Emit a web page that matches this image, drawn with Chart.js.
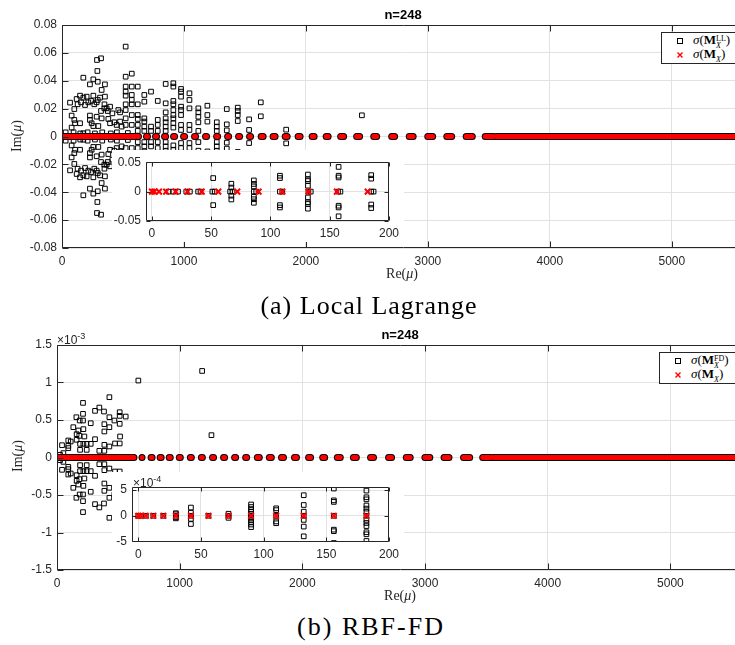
<!DOCTYPE html>
<html>
<head>
<meta charset="utf-8">
<script src="https://cdn.jsdelivr.net/npm/chart.js@4.4.1/dist/chart.umd.min.js"></script>
<style>
  html, body { margin: 0; padding: 0; overflow: hidden; background: #fff; }
  body { position: relative; width: 735px; height: 645px; font-family: 'Liberation Sans', Arial, sans-serif; }
  .box { position: absolute; }
  .txt { position: absolute; white-space: nowrap; color: #262626; }
  .tex { font-family: 'Liberation Serif', 'Times New Roman', serif; }
  .ttl { font-weight: bold; font-size: 13px; color: #000; transform: translateX(-50%); }
  .ylab { font-size: 14px; transform: translate(-50%, -50%) rotate(-90deg); }
  .xlab { font-size: 14px; transform: translateX(-50%); }
  .cap { font-size: 26px; letter-spacing: 1px; color: #000; transform: translateX(-50%); }
  .mult { font-size: 12px; }
  .mult sup { font-size: 9px; vertical-align: 5px; }
  .legend { position: absolute; border: 1px solid #262626; background: #fff; width: 100px; height: 30px; }
  .legend svg { position: absolute; }
  .legend .lt { position: absolute; font-size: 13px; color: #000; white-space: nowrap; }
  .ss { display: inline-block; vertical-align: -4px; font-size: 8px; line-height: 7px; text-align: left; }
  .ss span { display: block; }
</style>
</head>
<body>

<div class="box" style="left:0;top:0"><canvas id="llMain" width="770" height="290"></canvas></div>
<div class="box" style="left:112px;top:150px"><canvas id="llInset" width="292" height="92"></canvas></div>
<div class="box" style="left:0;top:320px"><canvas id="fdMain" width="770" height="290"></canvas></div>
<div class="box" style="left:112px;top:472px"><canvas id="fdInset" width="292" height="88"></canvas></div>

<div class="txt ttl" style="left:403px;top:7px">n=248</div>
<div class="txt ttl" style="left:400px;top:327px">n=248</div>

<div class="txt tex ylab" style="left:17px;top:136px">Im(<i>μ</i>)</div>
<div class="txt tex ylab" style="left:18px;top:456px">Im(<i>μ</i>)</div>
<div class="txt tex xlab" style="left:402px;top:266px">Re(<i>μ</i>)</div>
<div class="txt tex xlab" style="left:400px;top:588px">Re(<i>μ</i>)</div>

<div class="txt mult" style="left:57px;top:331px">×10<sup>-3</sup></div>
<div class="txt mult" style="left:133px;top:474px">×10<sup>-4</sup></div>

<div class="txt tex cap" style="left:369px;top:291px">(a) Local Lagrange</div>
<div class="txt tex cap" style="left:371px;top:612px;letter-spacing:2px">(b) RBF-FD</div>

<div class="legend" style="left:661px;top:32px">
  <svg width="12" height="30" style="left:12px;top:0"><rect x="3.5" y="5.5" width="5" height="5" fill="none" stroke="#000"/><path d="M3.5 19.5 L8.5 24.5 M8.5 19.5 L3.5 24.5" stroke="#f00" stroke-width="1.4"/></svg>
  <div class="lt tex" style="left:31px;top:-1px"><i>σ</i>(<b>M</b><span class="ss"><span>LL</span><span><i>X</i></span></span>)</div>
  <div class="lt tex" style="left:31px;top:13px"><i>σ</i>(<b>M</b><sub style="font-size:8px"><i>X</i></sub>)</div>
</div>
<div class="legend" style="left:659px;top:352px">
  <svg width="12" height="30" style="left:12px;top:0"><rect x="3.5" y="5.5" width="5" height="5" fill="none" stroke="#000"/><path d="M3.5 19.5 L8.5 24.5 M8.5 19.5 L3.5 24.5" stroke="#f00" stroke-width="1.4"/></svg>
  <div class="lt tex" style="left:31px;top:-1px"><i>σ</i>(<b>M</b><span class="ss"><span>FD</span><span><i>X</i></span></span>)</div>
  <div class="lt tex" style="left:31px;top:13px"><i>σ</i>(<b>M</b><sub style="font-size:8px"><i>X</i></sub>)</div>
</div>

<script>
// ---- data ----

// axis ticks
var xTicksMain = [0, 1000, 2000, 3000, 4000, 5000];
var xTicksInset = [0, 50, 100, 150, 200];
var yTicksLL = [-0.08, -0.06, -0.04, -0.02, 0, 0.02, 0.04, 0.06, 0.08];
var yTicksLLInset = [-0.05, 0, 0.05];
var yTicksFD = [-1.5, -1, -0.5, 0, 0.5, 1, 1.5];      // x 1e-3
var yTicksFDInset = [-5, 0, 5];                        // x 1e-4

// sigma(M_X): stretches of the real axis covered by the eigenvalue clusters [from, to]
var mxBands = [
  [0, 600], [619, 627], [693, 701], [767, 775], [841, 849], [915, 923], [997, 1005],
  [1087, 1095], [1177, 1185], [1268, 1276], [1358, 1366], [1448, 1456], [1538, 1546],
  [1633, 1649], [1731, 1747], [1830, 1846], [1936, 1952], [2051, 2067], [2166, 2182],
  [2285, 2309], [2416, 2440], [2556, 2580], [2703, 2727], [2847, 2879], [2999, 3039],
  [3155, 3195], [3314, 3364], [3470, 3536], [3560, 5600]
];
// sigma(M_X) below Re = 200 (inset)
var mxLow = [0, 2, 6, 12, 20, 30, 42, 56, 72, 90, 110, 132, 156, 182];

// sigma(M_X^LL), eigenvalues with Im > 0 (the conjugates are drawn too)
var llPairs = [
  [66, 0.0243], [101, 0.0197], [120, 0.0269], [128, 0.0231], [148, 0.0293], [156, 0.0245],
  [175, 0.0279], [189, 0.0226], [202, 0.0286], [216, 0.0245], [238, 0.0255], [257, 0.0293],
  [265, 0.0231], [284, 0.0245], [293, 0.0262], [312, 0.0279], [352, 0.0286], [348, 0.0231],
  [175, 0.0422], [229, 0.0374], [257, 0.0410], [293, 0.0393], [352, 0.0374], [325, 0.0334],
  [287, 0.0549], [320, 0.0561], [290, 0.0470], [522, 0.0645],
  [79, 0.0150], [101, 0.0119], [107, 0.0095], [79, 0.0064], [148, 0.0095], [175, 0.0023],
  [229, 0.0150], [229, 0.0119], [243, 0.0095], [257, 0.0075], [284, 0.0142], [298, 0.0075],
  [320, 0.0183], [325, 0.0130], [347, 0.0202], [366, 0.0202], [375, 0.0183], [394, 0.0214],
  [380, 0.0126], [394, 0.0095], [413, 0.0166], [429, 0.0102], [448, 0.0083], [476, 0.0173],
  [476, 0.0107], [489, 0.0071], [462, 0.0190],
  [522, 0.0429], [522, 0.0358], [522, 0.0322], [522, 0.0293], [522, 0.0231], [522, 0.0190], [522, 0.0130], [522, 0.0083],
  [572, 0.0451], [572, 0.0358], [572, 0.0298], [572, 0.0262], [572, 0.0231], [572, 0.0154], [572, 0.0083],
  [621, 0.0358], [621, 0.0231], [621, 0.0154], [621, 0.0126], [621, 0.0083], [621, 0.0040],
  [675, 0.0298], [675, 0.0250], [675, 0.0130], [675, 0.0107], [675, 0.0071], [675, 0.0040],
  [730, 0.0322], [730, 0.0071], [730, 0.0040],
  [785, 0.0255], [785, 0.0119], [785, 0.0083], [785, 0.0040],
  [850, 0.0377], [850, 0.0238], [850, 0.0173], [850, 0.0130], [850, 0.0102], [850, 0.0071], [850, 0.0040],
  [913, 0.0382], [913, 0.0358], [913, 0.0255], [913, 0.0231], [913, 0.0190], [913, 0.0154], [913, 0.0130], [913, 0.0095], [913, 0.0064],
  [976, 0.0341], [976, 0.0322], [976, 0.0286], [976, 0.0214], [976, 0.0190], [976, 0.0154], [976, 0.0083], [976, 0.0047],
  [1045, 0.0310], [1045, 0.0262], [1045, 0.0202], [1045, 0.0083], [1045, 0.0047],
  [1118, 0.0202], [1118, 0.0173], [1118, 0.0142], [1118, 0.0102], [1118, 0.0040],
  [1192, 0.0221], [1192, 0.0154], [1192, 0.0107],
  [1269, 0.0102], [1269, 0.0071], [1269, 0.0040],
  [1351, 0.0197], [1351, 0.0087], [1351, 0.0044],
  [1441, 0.0207], [1441, 0.0183], [1441, 0.0154], [1441, 0.0111],
  [1534, 0.0123], [1534, 0.0047], [1630, 0.0245], [1630, 0.0145], [1838, 0.0049], [2459, 0.0152],
  [30, 0.0030], [95, 0.0030], [150, 0.0022], [210, 0.0030], [270, 0.0022], [330, 0.0030],
  [400, 0.0022], [450, 0.0030], [540, 0.0025]
];
var llInsetPairs = [
  [51.7, 0.023], [67, 0.0134], [67, 0.0069], [86, 0.019], [86, 0.013], [86, 0.0088],
  [108, 0.027], [108, 0.023], [131.6, 0.029], [131.6, 0.021], [131.6, 0.018], [131.6, 0.010],
  [157.5, 0.042], [157.5, 0.027], [157.5, 0.024], [185, 0.028], [185, 0.022]
];
var llInsetReal = [14, 18, 22, 29, 32, 39, 41, 51, 53, 66, 68, 86, 88, 108, 110, 132, 134, 157, 159, 185, 187];

// sigma(M_X^FD), Im in units of 1e-3, Im > 0 half
var fdPairs = [
  [663, 1.026], [1183, 1.154], [1259, 0.298], [427, 0.804], [212, 0.728], [345, 0.666],
  [310, 0.622], [383, 0.613], [511, 0.604], [511, 0.555], [560, 0.546], [427, 0.537],
  [212, 0.582], [158, 0.537], [185, 0.493], [212, 0.493], [468, 0.493], [275, 0.457],
  [133, 0.404], [386, 0.444], [427, 0.404], [511, 0.449], [386, 0.347], [215, 0.378],
  [174, 0.360], [160, 0.311], [182, 0.289], [223, 0.280], [160, 0.236], [310, 0.244],
  [514, 0.280], [473, 0.187], [511, 0.187], [386, 0.169], [427, 0.147], [345, 0.089],
  [386, 0.089], [188, 0.182], [215, 0.182], [242, 0.182], [275, 0.182], [188, 0.102],
  [242, 0.102], [41, 0.164], [92, 0.227], [92, 0.156], [92, 0.125], [112, 0.213],
  [52, 0.058], [25, 0.036]
];
// inset, Im in units of 1e-4
var fdInsetPairs = [
  [30, 0.5], [30, 0.3], [42, 1.6], [42, 0.6], [72, 0.4],
  [90, 2.2], [90, 1.7], [90, 1.2], [90, 0.8], [90, 0.4], [110, 1.45], [110, 1.1],
  [132, 4.0], [132, 2.1], [132, 0.8], [156, 5.3], [156, 3.0], [156, 2.7],
  [182, 4.9], [182, 3.6], [182, 3.2], [182, 2.0], [182, 1.4], [182, 0.8]
];

(function () {
  'use strict';

  var GRID = '#e2e2e2';
  var AXIS = '#262626';
  var TICK_FONT = { family: "'Liberation Sans', Arial, sans-serif", size: 12 };

  // conjugate pairs: each eigenvalue a+bi comes with a-bi
  function conjPoints(pairs) {
    var out = [];
    pairs.forEach(function (p) {
      out.push({ x: p[0], y: p[1] });
      out.push({ x: p[0], y: -p[1] });
    });
    return out;
  }

  function realPoints(xs) {
    return xs.map(function (v) { return { x: v, y: 0 }; });
  }

  // band segments separated by gaps
  function bandData(bands) {
    var out = [];
    bands.forEach(function (b) {
      out.push({ x: b[0], y: 0 }, { x: b[1], y: 0 }, { x: b[1], y: null });
    });
    return out;
  }

  function fixTicks(values) {
    return function (scale) {
      scale.ticks = values.map(function (v) { return { value: v }; });
    };
  }

  function fmt(v) {
    if (Math.abs(v) < 1e-12) return '0';
    return String(parseFloat(v.toPrecision(6)));
  }
  function fmt2(v) {
    if (Math.abs(v) < 1e-12) return '0';
    return v.toFixed(2);
  }

  // box around the axes with MATLAB-style inward ticks
  var framePlugin = {
    id: 'frame',
    beforeDraw: function (chart, args, opts) {
      if (!opts.fill) return;
      var ctx = chart.ctx;
      ctx.save();
      ctx.fillStyle = '#fff';
      ctx.fillRect(0, 0, chart.width, chart.height);
      ctx.restore();
    },
    afterDraw: function (chart, args, opts) {
      var a = chart.chartArea, ctx = chart.ctx, len = opts.tick || 5;
      var xs = chart.scales.x, ys = chart.scales.y;
      var l = Math.round(a.left) + 0.5, r = Math.round(a.right) - 0.5;
      var t = Math.round(a.top) + 0.5, b = Math.round(a.bottom) - 0.5;
      ctx.save();
      ctx.strokeStyle = AXIS;
      ctx.lineWidth = 1;
      ctx.beginPath();
      ctx.rect(l, t, r - l, b - t);
      xs.ticks.forEach(function (tk) {
        var px = Math.round(xs.getPixelForValue(tk.value)) + 0.5;
        ctx.moveTo(px, b); ctx.lineTo(px, b - len);
        ctx.moveTo(px, t); ctx.lineTo(px, t + len);
      });
      ys.ticks.forEach(function (tk) {
        var py = Math.round(ys.getPixelForValue(tk.value)) + 0.5;
        ctx.moveTo(l, py); ctx.lineTo(l + len, py);
        ctx.moveTo(r, py); ctx.lineTo(r - len, py);
      });
      ctx.stroke();
      ctx.restore();
    }
  };

  function squares(data, order) {
    return {
      data: data, order: order,
      pointStyle: 'rect', pointRadius: 3.3, borderWidth: 1,
      borderColor: '#000', backgroundColor: 'rgba(0,0,0,0)'
    };
  }
  function crosses(data, order) {
    return {
      data: data, order: order,
      pointStyle: 'crossRot', pointRadius: 4, borderWidth: 2,
      borderColor: '#ff0000', backgroundColor: '#ff0000'
    };
  }
  function band(color, width, order) {
    return {
      type: 'line', data: bandData(mxBands), order: order,
      borderColor: color, borderWidth: width, borderCapStyle: 'round',
      pointRadius: 0, spanGaps: false, tension: 0, fill: false
    };
  }

  function makeChart(id, o) {
    return new Chart(document.getElementById(id), {
      type: 'scatter',
      data: { datasets: o.datasets },
      options: {
        responsive: false,
        animation: false,
        events: [],
        layout: { padding: { left: 0, top: o.top, right: o.right, bottom: 0 } },
        plugins: {
          legend: { display: false },
          tooltip: { enabled: false },
          frame: { tick: o.tick, fill: o.fill }
        },
        scales: {
          x: {
            type: 'linear', min: o.xMin, max: o.xMax,
            afterBuildTicks: fixTicks(o.xTicks),
            afterFit: function (s) { s.height = o.xH; },
            grid: { color: GRID, drawTicks: false },
            border: { display: false },
            ticks: { font: TICK_FONT, color: AXIS, padding: o.xPad, maxRotation: 0, autoSkip: false, callback: fmt }
          },
          y: {
            type: 'linear', min: o.yMin, max: o.yMax,
            afterBuildTicks: fixTicks(o.yTicks),
            afterFit: function (s) { s.width = o.yW; },
            grid: { color: GRID, drawTicks: false },
            border: { display: false },
            ticks: { font: TICK_FONT, color: AXIS, padding: 5, autoSkip: false, callback: o.yFmt || fmt }
          }
        }
      },
      plugins: [framePlugin]
    });
  }

  // (a) Local Lagrange
  makeChart('llMain', {
    datasets: [
      band('#ff0000', 5, 2),
      band('#000', 7, 3),
      squares(conjPoints(llPairs), 4)
    ],
    top: 25, right: 25, xH: 42, yW: 62, xPad: 6, tick: 6,
    xMin: 0, xMax: 5600, xTicks: xTicksMain,
    yMin: -0.08, yMax: 0.08, yTicks: yTicksLL, yFmt: fmt2
  });

  makeChart('llInset', {
    datasets: [
      crosses(realPoints(mxLow), 1),
      squares(realPoints(llInsetReal), 2),
      squares(conjPoints(llInsetPairs), 3)
    ],
    top: 8, right: 13, xH: 21, yW: 34, xPad: 5, tick: 4, fill: true,
    xMin: -5, xMax: 200, xTicks: xTicksInset,
    yMin: -0.05, yMax: 0.05, yTicks: yTicksLLInset, yFmt: fmt2
  });

  // (b) RBF-FD
  makeChart('fdMain', {
    datasets: [
      band('#ff0000', 5, 2),
      band('#000', 7, 3),
      squares(conjPoints(fdPairs), 4)
    ],
    top: 25, right: 26, xH: 40, yW: 57, xPad: 6, tick: 6,
    xMin: 0, xMax: 5600, xTicks: xTicksMain,
    yMin: -1.5, yMax: 1.5, yTicks: yTicksFD
  });

  makeChart('fdInset', {
    datasets: [
      crosses(realPoints(mxLow), 1),
      squares(realPoints(mxLow), 2),
      squares(conjPoints(fdInsetPairs), 3)
    ],
    top: 15, right: 14, xH: 18, yW: 20, xPad: 5, tick: 4, fill: true,
    xMin: -5, xMax: 200, xTicks: xTicksInset,
    yMin: -5.1, yMax: 5.6, yTicks: yTicksFDInset
  });
})();
</script>
</body>
</html>
